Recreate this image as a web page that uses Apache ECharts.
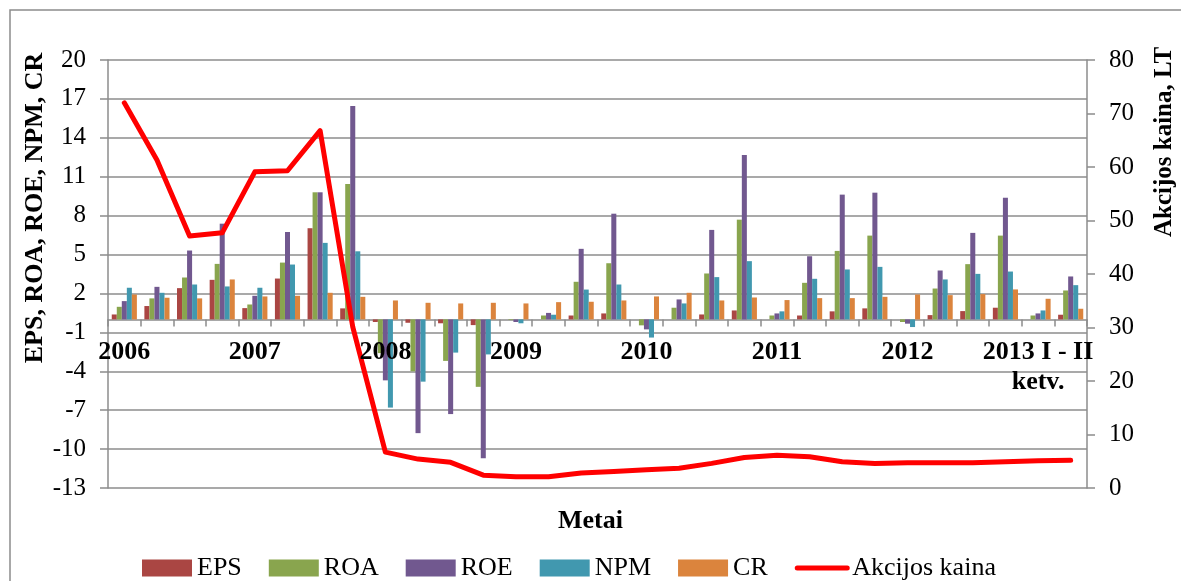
<!DOCTYPE html>
<html>
<head>
<meta charset="utf-8">
<title>EPS, ROA, ROE, NPM, CR ir akcijos kaina</title>
<script src="https://cdn.jsdelivr.net/npm/echarts@6/dist/echarts.min.js"></script>
<style>
  html, body { margin: 0; padding: 0; background: #fff; }
  #chart { width: 1181px; height: 581px; }
</style>
</head>
<body>
<div id="chart"></div>
<script>
// Quarterly periods, 2006 Q1 - 2013 Q2
const quarters = [
  '2006 I', '2006 II', '2006 III', '2006 IV',
  '2007 I', '2007 II', '2007 III', '2007 IV',
  '2008 I', '2008 II', '2008 III', '2008 IV',
  '2009 I', '2009 II', '2009 III', '2009 IV',
  '2010 I', '2010 II', '2010 III', '2010 IV',
  '2011 I', '2011 II', '2011 III', '2011 IV',
  '2012 I', '2012 II', '2012 III', '2012 IV',
  '2013 I', '2013 II'
];

// Year labels shown under the first quarter of each year
const yearLabels = ['2006', '2007', '2008', '2009', '2010', '2011', '2012', '2013 I - II\nketv.'];

// Left axis ticks (-13 .. 20 step 3) and right axis ticks (0 .. 80 step 10)
const leftTicks = { min: -13, max: 20, step: 3 };
const rightTicks = { min: 0, max: 80, step: 10 };

const eps = [0.38, 1.03, 2.41, 3.05, 0.87, 3.15, 7.03, 0.85, -0.2, -0.26, -0.3, -0.44, 0, 0, 0.3, 0.46, 0, 0, 0.38, 0.69, 0, 0.3, 0.62, 0.85, 0, 0.33, 0.64, 0.9, 0, 0.36];
const roa = [0.97, 1.62, 3.23, 4.28, 1.15, 4.38, 9.8, 10.44, -2.6, -4.0, -3.2, -5.2, -0.05, 0.3, 2.9, 4.33, -0.46, 0.9, 3.54, 7.69, 0.3, 2.82, 5.28, 6.46, -0.2, 2.38, 4.26, 6.46, 0.3, 2.23];
const roe = [1.41, 2.51, 5.31, 7.38, 1.82, 6.74, 9.8, 16.46, -4.7, -8.77, -7.3, -10.7, -0.2, 0.5, 5.44, 8.15, -0.77, 1.54, 6.9, 12.67, 0.46, 4.87, 9.62, 9.77, -0.33, 3.77, 6.67, 9.38, 0.46, 3.31];
const npm = [2.44, 2.05, 2.69, 2.54, 2.44, 4.23, 5.9, 5.25, -6.8, -4.8, -2.56, -2.7, -0.3, 0.36, 2.3, 2.69, -1.4, 1.23, 3.26, 4.49, 0.62, 3.13, 3.85, 4.05, -0.59, 3.08, 3.51, 3.69, 0.69, 2.64];
const cr  = [1.92, 1.67, 1.62, 3.08, 1.77, 1.82, 2.05, 1.74, 1.46, 1.28, 1.23, 1.28, 1.23, 1.33, 1.36, 1.46, 1.77, 2.05, 1.46, 1.69, 1.49, 1.64, 1.64, 1.74, 1.92, 1.87, 1.95, 2.31, 1.59, 0.82];
// Share price, LT
const price = [72, 61.3, 47.1, 47.7, 59.1, 59.3, 66.8, 30.1, 6.7, 5.4, 4.8, 2.4, 2.1, 2.1, 2.8, 3.1, 3.4, 3.7, 4.6, 5.7, 6.1, 5.85, 4.9, 4.6, 4.7, 4.7, 4.7, 4.9, 5.1, 5.2];

const SERIF = "'Liberation Serif', 'Times New Roman', 'DejaVu Serif', serif";
const GRID_GRAY = '#8c8c8c';
const PRICE_RED = '#FF0000';

// Plot box: top 60, bottom 488 (581 - 93); the zero line of the left scale
// sits 20/33 of the way down, and the year labels hang just below it.
const GRID_TOP = 60, GRID_BOTTOM = 93, PLOT_H = 581 - GRID_TOP - GRID_BOTTOM;
const zeroFromBottom = PLOT_H * (0 - leftTicks.min) / (leftTicks.max - leftTicks.min);

const chart = echarts.init(document.getElementById('chart'), null, { renderer: 'canvas' });

function barSeries(name, data, color) {
  return {
    name: name,
    type: 'bar',
    data: data,
    xAxisIndex: 0,
    yAxisIndex: 0,
    barGap: '0%',
    barCategoryGap: '23%',
    itemStyle: { color: color },
    emphasis: { disabled: true }
  };
}

const option = {
  animation: false,
  backgroundColor: '#ffffff',
  textStyle: { fontFamily: SERIF },
  title: {
    text: 'Metai',
    left: 'center',
    top: 503,
    textStyle: { fontFamily: SERIF, fontSize: 26, fontWeight: 'bold', color: '#000' }
  },
  legend: {
    left: 137,
    top: 550,
    itemWidth: 50,
    itemHeight: 17,
    itemGap: 27,
    textStyle: { fontFamily: SERIF, fontSize: 26, color: '#000' },
    data: [
      { name: 'EPS', icon: 'rect' },
      { name: 'ROA', icon: 'rect' },
      { name: 'ROE', icon: 'rect' },
      { name: 'NPM', icon: 'rect' },
      { name: 'CR', icon: 'rect' },
      {
        name: 'Akcijos kaina',
        itemStyle: { color: 'rgba(0,0,0,0)', borderWidth: 0, opacity: 0 },
        lineStyle: { color: PRICE_RED, width: 5 }
      }
    ]
  },
  grid: { left: 108, right: 94, top: GRID_TOP, bottom: GRID_BOTTOM, containLabel: false },
  graphic: [
    {
      type: 'rect',
      z: -10,
      shape: { x: 10, y: 10, width: 1400, height: 800 },
      style: { fill: 'none', stroke: GRID_GRAY, lineWidth: 1.5 }
    },
    {
      type: 'text',
      x: 35, y: 208,
      rotation: Math.PI / 2,
      style: {
        text: 'EPS, ROA, ROE, NPM, CR',
        font: "bold 26px 'Liberation Serif', 'Times New Roman', serif",
        fill: '#000',
        align: 'center',
        verticalAlign: 'middle'
      }
    },
    {
      type: 'text',
      x: 1165, y: 142,
      rotation: Math.PI / 2,
      style: {
        text: 'Akcijos kaina, LT',
        font: "bold 25px 'Liberation Serif', 'Times New Roman', serif",
        fill: '#000',
        align: 'center',
        verticalAlign: 'middle'
      }
    }
  ],
  xAxis: [
    {
      // category axis drawn on the zero line, with a tick between quarters
      type: 'category',
      data: quarters,
      boundaryGap: true,
      axisLine: { show: true, onZero: true, onZeroAxisIndex: 0, lineStyle: { color: GRID_GRAY, width: 1.5 } },
      axisTick: { show: true, interval: 0, inside: false, length: 7, alignWithLabel: false, lineStyle: { color: GRID_GRAY, width: 1.5 } },
      axisLabel: { show: false },
      splitLine: { show: false }
    },
    {
      // year labels, lifted up to hang under the zero line, drawn over the marks
      type: 'category',
      data: quarters,
      position: 'bottom',
      offset: -zeroFromBottom,
      boundaryGap: true,
      z: 10,
      axisLine: { show: false },
      axisTick: { show: false },
      axisLabel: {
        interval: 3,
        margin: 18,
        color: '#000',
        fontFamily: SERIF,
        fontSize: 26,
        fontWeight: 'bold',
        lineHeight: 30,
        formatter: function (value, index) {
          return index % 4 === 0 ? yearLabels[index / 4] : '';
        }
      },
      splitLine: { show: false }
    }
  ],
  yAxis: [
    {
      type: 'value',
      min: leftTicks.min,
      max: leftTicks.max,
      interval: leftTicks.step,
      axisLine: { show: true, lineStyle: { color: GRID_GRAY, width: 1.5 } },
      axisTick: { show: true, inside: false, length: 8, lineStyle: { color: GRID_GRAY, width: 1.5 } },
      axisLabel: { margin: 22, color: '#000', fontFamily: SERIF, fontSize: 25 },
      splitLine: { show: true, lineStyle: { color: GRID_GRAY, width: 1.5 } }
    },
    {
      type: 'value',
      position: 'right',
      min: rightTicks.min,
      max: rightTicks.max,
      interval: rightTicks.step,
      axisLine: { show: true, lineStyle: { color: GRID_GRAY, width: 1.5 } },
      axisTick: { show: true, inside: false, length: 8, lineStyle: { color: GRID_GRAY, width: 1.5 } },
      axisLabel: { margin: 22, color: '#000', fontFamily: SERIF, fontSize: 25 },
      splitLine: { show: false }
    }
  ],
  series: [
    barSeries('EPS', eps, '#AA4643'),
    barSeries('ROA', roa, '#89A54E'),
    barSeries('ROE', roe, '#71588F'),
    barSeries('NPM', npm, '#4198AF'),
    barSeries('CR', cr, '#DB843D'),
    {
      name: 'Akcijos kaina',
      type: 'line',
      data: price,
      yAxisIndex: 1,
      symbol: 'none',
      showSymbol: false,
      z: 5,
      lineStyle: { color: PRICE_RED, width: 5, join: 'round', cap: 'round' },
      itemStyle: { color: PRICE_RED },
      emphasis: { disabled: true }
    }
  ]
};

chart.setOption(option);
</script>
</body>
</html>
